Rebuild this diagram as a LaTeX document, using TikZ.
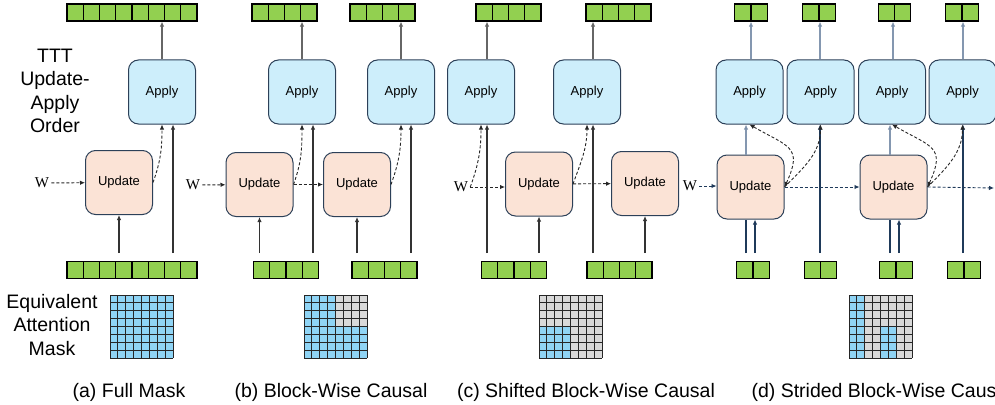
\documentclass[tikz,border=0pt]{standalone}
\usepackage{fontspec}
\setmainfont{Liberation Sans}
\newfontfamily\wfont{Liberation Serif}
\usetikzlibrary{arrows.meta}

\definecolor{tokgreen}{HTML}{92D050}
\definecolor{applyblue}{HTML}{CDEEFB}
\definecolor{updatepeach}{HTML}{FBE3D6}
\definecolor{boxnavy}{HTML}{2C4058}
\definecolor{maskblue}{HTML}{8FD4F5}
\definecolor{maskgray}{HTML}{D9D9D9}
\definecolor{linenavy}{HTML}{1F3A5A}
\definecolor{lineslate}{HTML}{8497B0}

\tikzset{
  applybox/.style={draw=boxnavy, fill=applyblue, rounded corners=10pt, line width=1pt, minimum width=67pt, minimum height=64pt, font=\fontsize{13}{15}\selectfont},
  updatebox/.style={draw=boxnavy, fill=updatepeach, rounded corners=10pt, line width=1pt, minimum width=67pt, minimum height=64pt, font=\fontsize{13}{15}\selectfont},
  tokbar/.style={draw=black, fill=tokgreen, line width=1.2pt, inner sep=0pt, minimum height=17pt, minimum width=#1*16.25pt,
    path picture={\foreach \k in {1,...,#1} \draw[line width=1.2pt] ([xshift=\k*16.25pt]path picture bounding box.south west) -- ([xshift=\k*16.25pt]path picture bounding box.north west);}},
  wlabel/.style={font=\wfont\fontsize{15}{17}\selectfont, inner sep=2pt},
  title/.style={align=center, font=\fontsize{19.5}{23.5}\selectfont},
  caption/.style={anchor=base, font=\fontsize{19.5}{23.5}\selectfont},
  uparrow/.style={->, line width=1.2pt, draw=black!80},
  toparrow/.style={->, line width=1.2pt, draw=black!60},
  dasharrow/.style={->, dash pattern=on 3pt off 2pt, line width=0.9pt, draw=black!85},
  navyline/.style={line width=1.2pt, draw=linenavy},
  slatearrow/.style={->, line width=1.2pt, draw=lineslate},
  navydash/.style={->, dash pattern=on 3pt off 2pt, line width=0.9pt, draw=linenavy},
  maskline/.style={line width=1pt, draw=black!85}
}
\newcommand\maskgrid{\foreach \k in {0,...,8} {\draw[maskline] (\k*7.875,0) -- (\k*7.875,63); \draw[maskline] (0,\k*7.875) -- (63,\k*7.875);}}

\begin{document}
\begin{tikzpicture}[x=1pt, y=-1pt, >={Latex[length=5pt,width=4.5pt]}]
  \useasboundingbox (0,0) rectangle (995,404);

  \node[title] (ttt) at (55,91) {TTT\\Update-\\Apply\\Order};
  \node[title] (eam) at (52,325) {Equivalent\\Attention\\Mask};

  % (a) full mask
  \node[tokbar=8] (out_a) at (132,12.5) {};
  \node[applybox] (app_a) at (162,92) {Apply};
  \node[updatebox] (upd_a) at (119,182.5) {Update};
  \node[wlabel] (w_a) at (42,183) {W};
  \node[tokbar=8] (in_a) at (132,270) {};
  \coordinate (a_s1) at (119,253); \coordinate (a_s2) at (173,253);
  \draw[toparrow] (app_a.north) -- (app_a.north |- out_a.south);
  \draw[dasharrow] (w_a) -- (upd_a);
  \draw[dasharrow] (upd_a.east) to[out=70,in=-90] (app_a.south);
  \draw[uparrow] (a_s1) -- (upd_a.south);
  \draw[uparrow] (a_s2) -- (a_s2 |- app_a.south);

  % (b) block-wise causal
  \node[tokbar=4] (out_b1) at (284.5,12.5) {}; \node[tokbar=4] (out_b2) at (382.5,12.5) {};
  \node[applybox] (app_b1) at (302,92) {Apply}; \node[applybox] (app_b2) at (401,92) {Apply};
  \node[updatebox] (upd_b1) at (259.5,184.5) {Update}; \node[updatebox] (upd_b2) at (357,184.5) {Update};
  \node[wlabel] (w_b) at (193,185) {W};
  \node[tokbar=4] (in_b1) at (286,270) {}; \node[tokbar=4] (in_b2) at (384.5,270) {};
  \coordinate (b_s1) at (259.5,253); \coordinate (b_s2) at (313,253);
  \coordinate (b_s3) at (357,253); \coordinate (b_s4) at (411,253);
  \draw[toparrow] (app_b1.north) -- (app_b1.north |- out_b1.south); \draw[toparrow] (app_b2.north) -- (app_b2.north |- out_b2.south);
  \draw[dasharrow] (w_b) -- (upd_b1); \draw[dasharrow] (upd_b1) -- (upd_b2);
  \draw[dasharrow] (upd_b1.east) to[out=70,in=-90] (app_b1.south); \draw[dasharrow] (upd_b2.east) to[out=70,in=-90] (app_b2.south);
  \draw[uparrow] (b_s1) -- (upd_b1.south); \draw[uparrow] (b_s2) -- (b_s2 |- app_b1.south);
  \draw[uparrow] (b_s3) -- (upd_b2.south); \draw[uparrow] (b_s4) -- (b_s4 |- app_b2.south);

  % (c) shifted block-wise causal
  \node[tokbar=4] (out_c1) at (508.5,12.5) {}; \node[tokbar=4] (out_c2) at (618.5,12.5) {};
  \node[applybox] (app_c1) at (481,92) {Apply}; \node[applybox] (app_c2) at (587,92) {Apply};
  \node[updatebox] (upd_c1) at (539,184) {Update}; \node[updatebox] (upd_c2) at (645,183.5) {Update};
  \node[wlabel] (w_c) at (461,187) {W};
  \node[tokbar=4] (in_c1) at (514,270) {}; \node[tokbar=4] (in_c2) at (619.5,270) {};
  \coordinate (c_s1) at (487,253); \coordinate (c_s2) at (539,253);
  \coordinate (c_s3) at (593,253); \coordinate (c_s4) at (645,253);
  \draw[toparrow] (c_s1 |- app_c1.north) -- (c_s1 |- out_c1.south); \draw[toparrow] (c_s3 |- app_c2.north) -- (c_s3 |- out_c2.south);
  \draw[dasharrow] (w_c) -- (w_c -| upd_c1.west); \draw[dasharrow] (upd_c1) -- (upd_c2);
  \draw[dasharrow] (w_c.east) to[out=70,in=-90] (app_c1.south); \draw[dasharrow] (upd_c1.east) to[out=70,in=-90] (app_c2.south);
  \draw[uparrow] (c_s1) -- (c_s1 |- app_c1.south); \draw[uparrow] (c_s2) -- (upd_c1.south);
  \draw[uparrow] (c_s3) -- (c_s3 |- app_c2.south); \draw[uparrow] (c_s4) -- (upd_c2.south);

  % (d) strided block-wise causal
  \foreach \i/\x/\t/\b in {1/749.5/751/753, 2/820.5/819/820.5, 3/892/894.5/896, 4/962.5/962/964} {
    \node[tokbar=2] (out_d\i) at (\t,12.5) {};
    \node[applybox] (app_d\i) at (\x,92) {Apply};
    \node[tokbar=2] (in_d\i) at (\b,270) {};
  }
  \node[updatebox] (upd_d1) at (750.5,187) {Update}; \node[updatebox] (upd_d2) at (893.5,187) {Update};
  \node[wlabel] (w_d) at (690,186) {W};
  \coordinate (d_s1) at (746,253); \coordinate (d_s2) at (755,253); \coordinate (d_s3) at (820,253);
  \coordinate (d_s4) at (890,253); \coordinate (d_s5) at (899,253); \coordinate (d_s6) at (963,253);
  \coordinate (d_next) at (994,188);
  \foreach \i/\x in {1/751, 2/820, 3/893, 4/963}
    \draw[slatearrow, -{Latex[length=5pt,width=4.5pt,fill=linenavy]}] (\x,0 |- app_d\i.north) -- (\x,0 |- out_d\i.south);
  \draw[navyline] (d_s1) -- (d_s1 |- upd_d1.south); \draw[navyline, ->] (d_s2) -- (d_s2 |- upd_d1.south);
  \draw[slatearrow, -{Latex[length=5pt,width=4.5pt,fill=linenavy]}] (d_s1 |- upd_d1.north) -- (d_s1 |- app_d1.south);
  \draw[navyline, ->] (d_s3) -- (d_s3 |- app_d2.south);
  \draw[navyline] (d_s4) -- (d_s4 |- upd_d2.south); \draw[navyline, ->] (d_s5) -- (d_s5 |- upd_d2.south);
  \draw[slatearrow, -{Latex[length=5pt,width=4.5pt,fill=linenavy]}] (d_s4 |- upd_d2.north) -- (d_s4 |- app_d3.south);
  \draw[navyline, ->] (d_s6) -- (d_s6 |- app_d4.south);
  \draw[navydash] (w_d) -- (w_d -| upd_d1.west);
  \draw[navydash] (upd_d1.east) -- (upd_d2.west |- upd_d1.east);
  \draw[navydash] (upd_d2.east) -- (d_next);
  \draw[navydash, draw=black!85, <->] (upd_d1.east) to[out=65,in=-30,looseness=1.6] (app_d1.south);
  \draw[navydash, draw=black!85] (upd_d1.east) to[out=45,in=-90] (app_d2.south);
  \draw[navydash, draw=black!85, <->] (upd_d2.east) to[out=65,in=-30,looseness=1.6] (app_d3.south);
  \draw[navydash, draw=black!85] (upd_d2.east) to[out=45,in=-90] (app_d4.south);

  % attention masks
  \begin{scope}[shift={(110,295)}]
    \fill[maskblue] (0,0) rectangle (63,63);
    \maskgrid
  \end{scope}
  \begin{scope}[shift={(304,295)}]
    \fill[maskgray] (0,0) rectangle (63,63);
    \fill[maskblue] (0,0) rectangle (31.5,31.5); \fill[maskblue] (0,31.5) rectangle (63,63);
    \maskgrid
  \end{scope}
  \begin{scope}[shift={(539,295)}]
    \fill[maskgray] (0,0) rectangle (63,63);
    \fill[maskblue] (0,31.5) rectangle (31.5,63);
    \maskgrid
  \end{scope}
  \begin{scope}[shift={(849,295)}]
    \fill[maskgray] (0,0) rectangle (63,63);
    \fill[maskblue] (0,0) rectangle (15.75,63); \fill[maskblue] (31.5,31.5) rectangle (47.25,63);
    \maskgrid
  \end{scope}

  \node[caption] (cap_a) at (129,397) {(a) Full Mask};
  \node[caption] (cap_b) at (331,397) {(b) Block-Wise Causal};
  \node[caption] (cap_c) at (586,397) {(c) Shifted Block-Wise Causal};
  \node[caption, anchor=base west] (cap_d) at (748,397) {(d) Strided Block-Wise Causal};
\end{tikzpicture}
\end{document}
